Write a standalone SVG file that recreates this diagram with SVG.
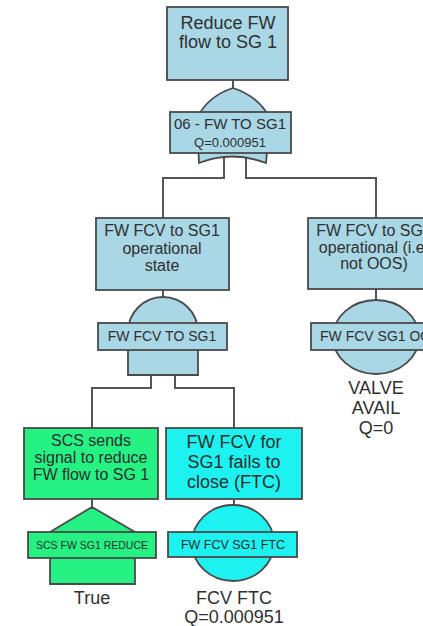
<svg xmlns="http://www.w3.org/2000/svg" width="423" height="626" viewBox="0 0 423 626">
<style>
  .blue { fill: #a9d7e6; stroke: #4a4a4a; stroke-width: 1.8; }
  .green { fill: #25f283; stroke: #4a4a4a; stroke-width: 1.8; }
  .cyan { fill: #1ef2f0; stroke: #4a4a4a; stroke-width: 1.8; }
  .conn { fill: none; stroke: #555; stroke-width: 2; }
  text { font-family: "Liberation Sans", Arial, sans-serif; fill: #2f2f2f; text-anchor: middle; }
  .t18 { font-size: 18px; }
  .t16 { font-size: 16px; }
  .t14 { font-size: 14px; }
  .t15 { font-size: 15px; }
  .t12 { font-size: 12.5px; }
  .t13 { font-size: 13px; }
  .t10 { font-size: 10.5px; }
</style>
<rect width="423" height="626" fill="#ffffff"/>
<g id="connectors">
  <path class="conn" d="M233,80 V89"/>
  <path class="conn" d="M224,156 V178 H163 V218"/>
  <path class="conn" d="M246,156 V178 H376 V218"/>
  <path class="conn" d="M163,290 V298"/>
  <path class="conn" d="M376,289 V301"/>
  <path class="conn" d="M151,374 V388 H92 V428"/>
  <path class="conn" d="M175,374 V388 H234 V428"/>
  <path class="conn" d="M92,499 V508"/>
  <path class="conn" d="M234,499 V506"/>
</g>
<g id="top-event">
  <rect class="blue" x="167" y="7" width="121" height="73"/>
  <text class="t18" x="228" y="29">Reduce FW</text>
  <text class="t18" x="228" y="48">flow to SG 1</text>
</g>
<g id="or-gate-06">
  <path class="blue" d="M233,88 Q208,96 197,118 L199,163 Q232,150 266,163 L270,118 Q258,96 233,88 Z"/>
  <rect class="blue" x="170" y="112" width="121" height="41"/>
  <text class="t15" x="230" y="129">06 - FW TO SG1</text>
  <text class="t13" x="230" y="147">Q=0.000951</text>
</g>
<g id="fcv-operational-state">
  <rect class="blue" x="96" y="218" width="133" height="72"/>
  <text class="t16" x="162" y="236">FW FCV to SG1</text>
  <text class="t16" x="162" y="254">operational</text>
  <text class="t16" x="162" y="271">state</text>
</g>
<g id="fcv-not-oos">
  <rect class="blue" x="308" y="218" width="136" height="71"/>
  <text class="t16" x="374" y="236">FW FCV to SG1</text>
  <text class="t16" x="374" y="253">operational (i.e.</text>
  <text class="t16" x="374" y="269">not OOS)</text>
</g>
<g id="and-gate-fcv">
  <path class="blue" d="M128,375 L128,332 A35,35 0 0 1 198,332 L198,375 Z"/>
  <rect class="blue" x="98" y="323" width="129" height="27"/>
  <text class="t14" x="162" y="341">FW FCV TO SG1</text>
</g>
<g id="basic-oos">
  <ellipse class="blue" cx="376" cy="337" rx="43" ry="37"/>
  <rect class="blue" x="311" y="323" width="130" height="27"/>
  <text class="t14" x="320" y="341" style="text-anchor:start">FW FCV SG1 OOS</text>
  <text class="t18" x="376" y="394">VALVE</text>
  <text class="t18" x="376" y="414">AVAIL</text>
  <text class="t18" x="376" y="434">Q=0</text>
</g>
<g id="scs-signal">
  <rect class="green" x="24" y="428" width="134" height="71"/>
  <text class="t16" x="91" y="446">SCS sends</text>
  <text class="t16" x="91" y="463">signal to reduce</text>
  <text class="t16" x="91" y="480">FW flow to SG 1</text>
</g>
<g id="house-scs-reduce">
  <path class="green" d="M92,507 L50,532 L50,584 L135,584 L135,532 Z"/>
  <rect class="green" x="28" y="532" width="128" height="26"/>
  <text class="t10" x="92" y="549">SCS FW SG1 REDUCE</text>
  <text class="t18" x="92" y="604">True</text>
</g>
<g id="fcv-fails-to-close">
  <rect class="cyan" x="166" y="428" width="136" height="71"/>
  <text class="t18" x="234" y="448">FW FCV for</text>
  <text class="t18" x="234" y="468">SG1 fails to</text>
  <text class="t18" x="234" y="488">close (FTC)</text>
</g>
<g id="basic-ftc">
  <ellipse class="cyan" cx="233" cy="543" rx="41" ry="38"/>
  <rect class="cyan" x="168" y="532" width="129" height="25"/>
  <text class="t12" x="233" y="549">FW FCV SG1 FTC</text>
  <text class="t18" x="234" y="604">FCV FTC</text>
  <text class="t18" x="234" y="623">Q=0.000951</text>
</g>
</svg>
